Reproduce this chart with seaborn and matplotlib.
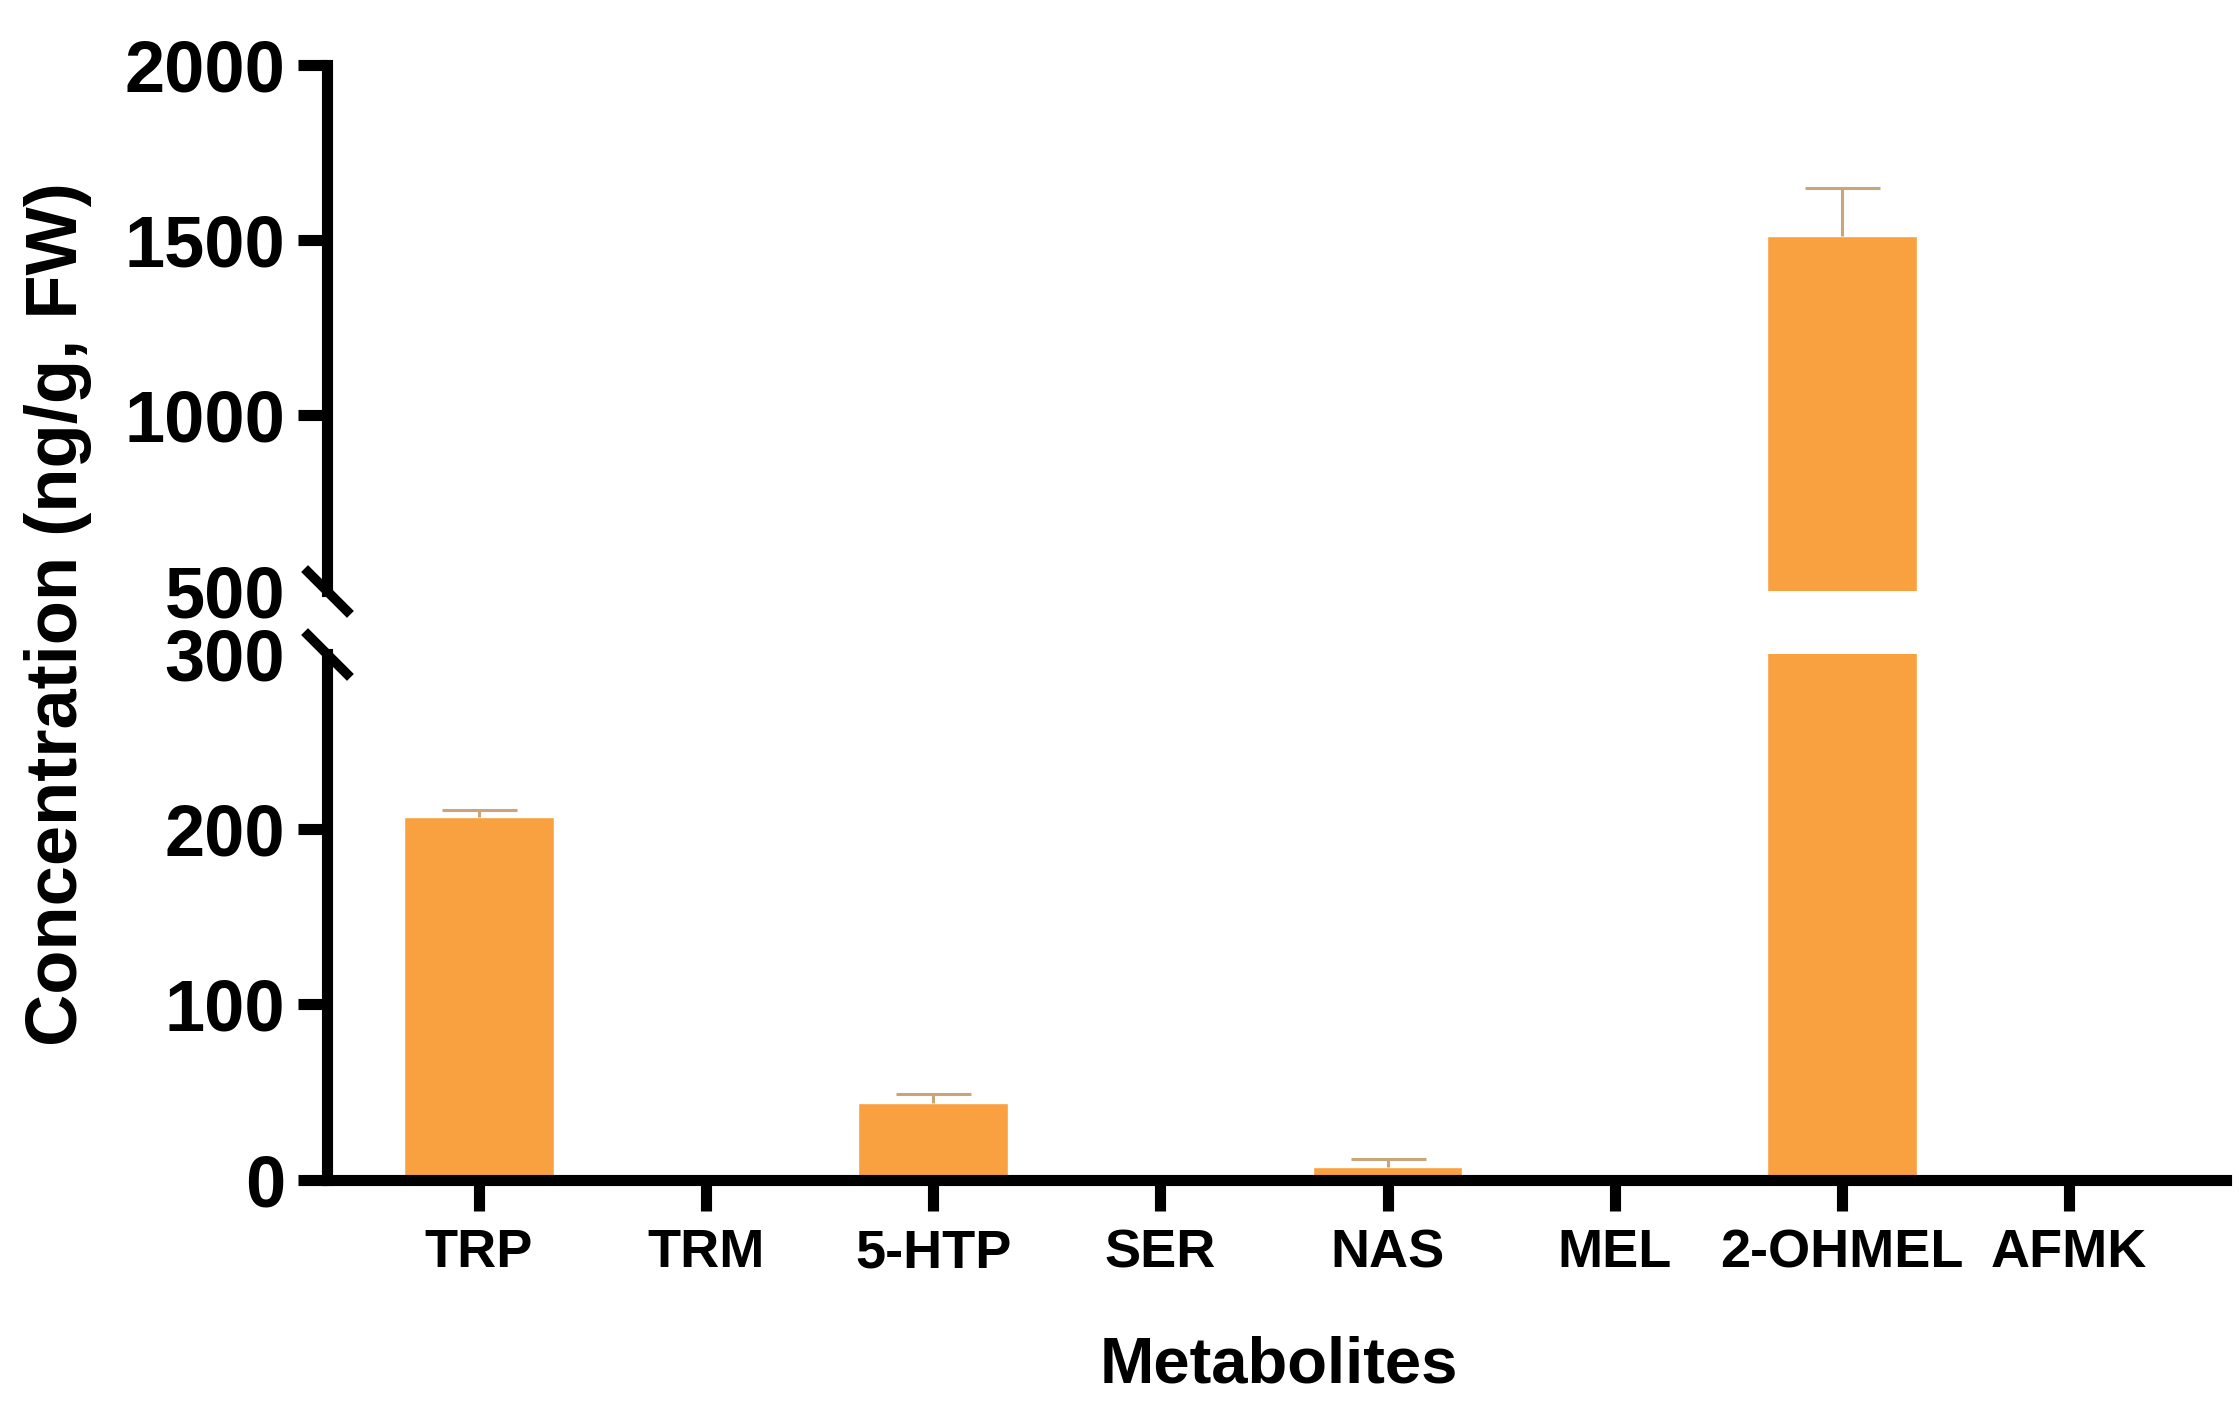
import numpy as np
import pandas as pd
import seaborn as sns
import matplotlib.pyplot as plt

sns.set_style("ticks")
plt.rcParams['font.family'] = ['Liberation Sans', 'DejaVu Sans']
plt.rcParams['font.weight'] = 'bold'
plt.rcParams['text.color'] = 'black'
plt.rcParams['axes.edgecolor'] = 'black'
plt.rcParams['xtick.color'] = 'black'
plt.rcParams['ytick.color'] = 'black'

metabolites = ["TRP", "TRM", "5-HTP", "SER", "NAS", "MEL", "2-OHMEL", "AFMK"]
conc = [207, 0, 44, 0, 7, 0, 1512, 0]
sd = [4, 0, 5, 0, 4.5, 0, 135, 0]

df = pd.DataFrame({"Metabolites": metabolites, "conc": conc, "sd": sd})

bar_color = "#F9A040"
err_color = "#C8A67A"
lw = 8.0

fig = plt.figure(figsize=(22.39, 14.06), dpi=100)
ax_top = fig.add_axes([0.146, 0.580, 0.848, 0.374])
ax_bot = fig.add_axes([0.146, 0.161, 0.848, 0.374])

for ax in (ax_top, ax_bot):
    sns.barplot(data=df, x="Metabolites", y="conc", color=bar_color,
                saturation=1, width=0.66, errorbar=None, ax=ax)
    eb = ax.errorbar(np.arange(len(metabolites)), df["conc"],
                     yerr=[np.zeros(len(sd)), df["sd"]], fmt="none",
                     ecolor=err_color, elinewidth=2.2, capsize=27, capthick=2.2)
    # one-sided error bars: drop the cap at the bar top
    eb[1][0].set_visible(False)
    ax.set_xlim(-0.67, 7.69)
    ax.set_xlabel("")
    ax.set_ylabel("")
    for s in ("top", "right"):
        ax.spines[s].set_visible(False)
    ax.spines["left"].set_linewidth(lw)
    ax.spines["bottom"].set_linewidth(lw)
    ax.tick_params(axis="y", length=21, width=lw, pad=9, labelsize=52)

ax_top.set_ylim(500, 2000)
ax_top.set_yticks([500, 1000, 1500, 2000])
ax_top.spines["bottom"].set_visible(False)
ax_top.tick_params(axis="x", bottom=False, labelbottom=False)

ax_bot.set_ylim(0, 300)
ax_bot.set_yticks([0, 100, 200, 300])
ax_bot.tick_params(axis="x", length=22, width=lw, pad=13, labelsize=39)

for ax in (ax_top, ax_bot):
    for lab in ax.get_yticklabels() + ax.get_xticklabels():
        lab.set_fontweight("bold")

# no tick marks at the break ends
ax_top.yaxis.get_major_ticks()[0].tick1line.set_visible(False)
ax_bot.yaxis.get_major_ticks()[-1].tick1line.set_visible(False)

# break marks
kw = dict(marker=[(-1, 1), (1, -1)], markersize=33, linestyle="none",
          color="black", mec="black", mew=7, clip_on=False)
ax_top.plot([0], [0.0], transform=ax_top.transAxes, **kw)
ax_bot.plot([0], [1.0], transform=ax_bot.transAxes, **kw)

fig.text(0.026, 0.563, "Concentration (ng/g, FW)", rotation=90,
         ha="center", va="center", fontsize=52, fontweight="bold")
fig.text(0.571, 0.017, "Metabolites", ha="center", va="baseline",
         fontsize=47, fontweight="bold")

fig.savefig("out.png", dpi=100)
